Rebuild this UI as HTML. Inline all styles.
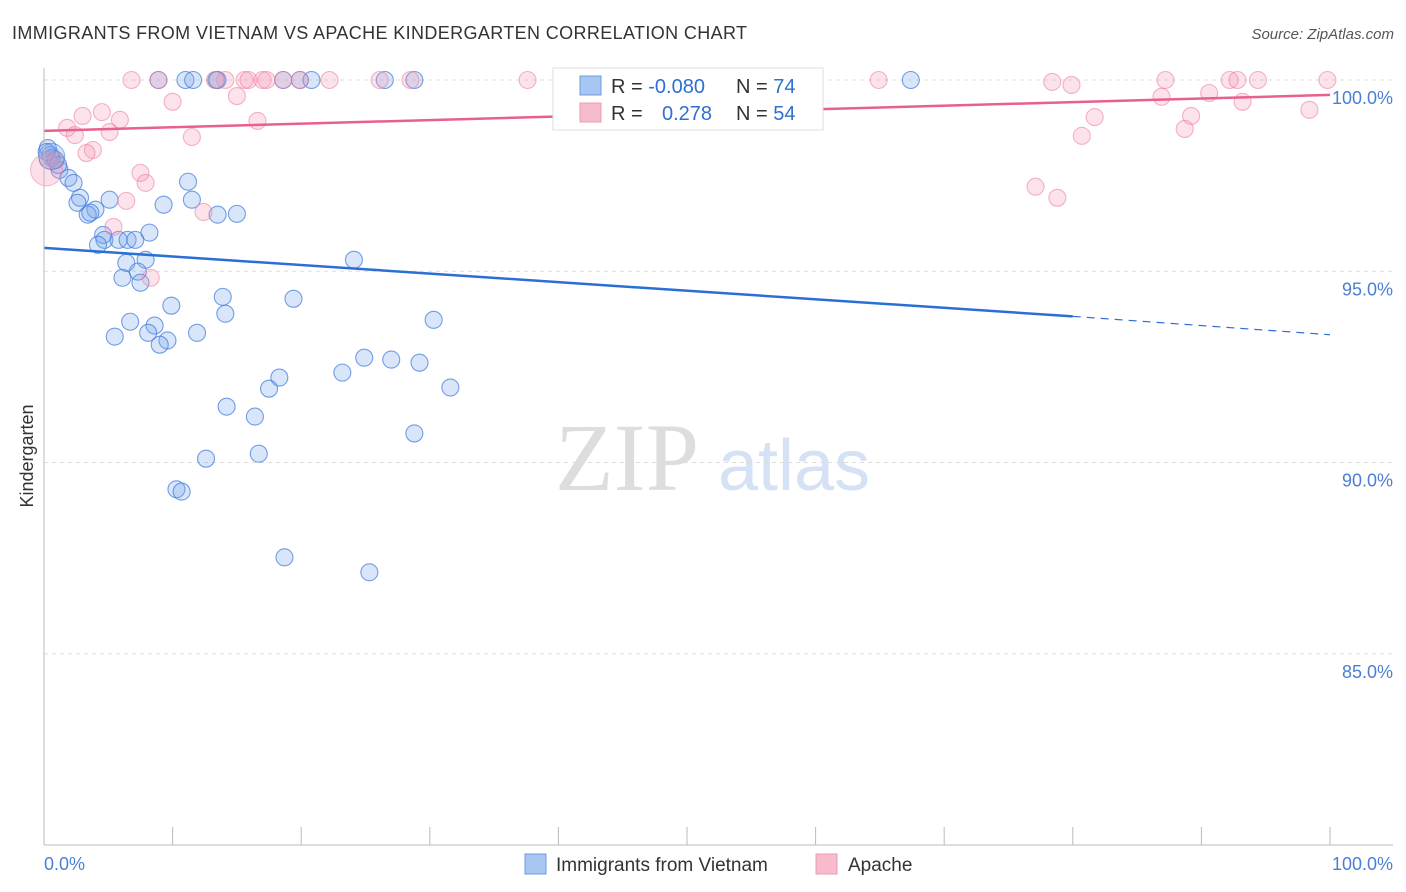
<!DOCTYPE html>
<html><head><meta charset="utf-8"><style>
body{margin:0;background:#fff;font-family:"Liberation Sans",sans-serif;}
svg{display:block}
</style></head><body>
<svg id="c" width="1406" height="892">
<text x="12" y="39" font-size="18" fill="#333" textLength="735">IMMIGRANTS FROM VIETNAM VS APACHE KINDERGARTEN CORRELATION CHART</text>
<text x="1394" y="39" font-size="15" fill="#555" font-style="italic" text-anchor="end">Source: ZipAtlas.com</text>
<text x="555" y="490" font-size="96" fill="#ddd" font-family="Liberation Serif,serif">ZIP</text>
<text x="718" y="490" font-size="72" fill="#d5e2f5">atlas</text>
<g id="grid"></g><g id="pts"></g><g id="lines"></g>
<line x1="44" y1="68" x2="44" y2="845" stroke="#bbb"/>
<line x1="44" y1="845" x2="1393" y2="845" stroke="#bbb"/>
<text x="44" y="870" font-size="18" fill="#4a7fd4">0.0%</text>
<text x="1393" y="870" font-size="18" fill="#4a7fd4" text-anchor="end">100.0%</text>
<text transform="translate(33,456) rotate(-90)" font-size="18" fill="#333" text-anchor="middle">Kindergarten</text>
<g>
<rect x="553" y="68" width="270" height="62" fill="#fff" stroke="#ddd"/>
<rect x="580" y="76" width="21" height="19" fill="#a8c6f2" stroke="#6a9be0"/>
<rect x="580" y="103" width="21" height="19" fill="#f7bccb" stroke="#ee98b0"/>
<text x="611" y="93" font-size="20" fill="#333">R = <tspan fill="#2f6fd0">-0.080</tspan><tspan x="736">N = </tspan><tspan fill="#2f6fd0">74</tspan></text>
<text x="611" y="120" font-size="20" fill="#333">R = <tspan x="662" fill="#2f6fd0">0.278</tspan><tspan x="736">N = </tspan><tspan fill="#2f6fd0">54</tspan></text>
</g>
<g>
<rect x="525" y="854" width="21" height="20" fill="#a8c6f2" stroke="#6a9be0"/>
<text x="556" y="871" font-size="19" fill="#333">Immigrants from Vietnam</text>
<rect x="816" y="854" width="21" height="20" fill="#f7bccb" stroke="#ee98b0"/>
<text x="848" y="871" font-size="19" fill="#333">Apache</text>
</g>
</svg>
<script>
const blueX=[8.9,11.0,11.6,13.4,13.5,18.6,19.9,20.8,26.5,28.8,43.1,67.4,0.5,0.9,1.2,1.9,2.3,2.8,2.6,4.0,3.4,3.6,5.1,9.3,11.2,11.5,13.5,15.0,4.6,8.2,4.7,4.2,5.8,6.5,7.1,7.9,6.4,24.1,7.3,6.1,7.5,13.9,19.4,9.9,14.1,6.7,8.6,8.1,5.5,11.9,9.6,9.0,30.3,24.9,27.0,29.2,23.2,18.3,17.5,31.6,14.2,16.4,28.8,16.7,12.6,10.3,10.7,18.7,25.3,0.3,0.6,1.1,0.2];
const blueY=[100,100,100,100,100,100,100,100,100,100,100,100,98.04,97.91,97.65,97.44,97.31,96.92,96.79,96.61,96.48,96.53,96.87,96.74,97.34,96.87,96.48,96.50,95.95,96.01,95.82,95.69,95.82,95.82,95.82,95.30,95.22,95.30,94.99,94.83,94.70,94.33,94.28,94.10,93.89,93.68,93.58,93.39,93.29,93.39,93.19,93.08,93.73,92.74,92.69,92.61,92.35,92.22,91.93,91.96,91.46,91.20,90.76,90.23,90.10,89.30,89.24,87.52,87.13,98.22,97.96,97.78,98.12];
const pinkX=[6.8,8.9,13.3,14.1,15.6,15.9,17.0,17.3,18.6,19.9,22.2,26.1,28.5,37.6,64.9,87.2,92.2,92.8,94.4,99.8,78.4,79.9,15.0,10.0,4.5,3.0,1.8,5.9,5.1,2.4,11.5,16.6,3.8,3.3,0.3,0.9,7.5,7.9,6.4,12.4,5.4,8.3,86.9,90.6,93.2,98.4,81.7,89.2,80.7,88.7,77.1,78.8];
const pinkY=[100,100,100,100,100,100,100,100,100,100,100,100,100,100,100,100,100,100,100,100,99.95,99.87,99.58,99.43,99.16,99.06,98.75,98.96,98.64,98.56,98.51,98.93,98.17,98.09,97.91,97.91,97.57,97.31,96.84,96.55,96.16,94.83,99.56,99.66,99.43,99.22,99.03,99.06,98.54,98.72,97.21,96.92];
const bigX=[0.2,0.6];const bigY=[97.65,98.0];
const yTicks=[100,95,90,85];
const yTickLabels=["100.0%","95.0%","90.0%","85.0%"];
const xTicks=[0,10,20,30,40,50,60,70,80,90,100];
const blueTrend=[95.61,93.82,93.34];
const pinkTrend=[98.67,99.61];
const NS="http://www.w3.org/2000/svg";
const sx=v=>44+v*12.86, sy=v=>845-(v-80)*38.25;
function mk(t,a,p){const e=document.createElementNS(NS,t);for(const k in a)e.setAttribute(k,a[k]);p.appendChild(e);return e;}
const grid=document.getElementById('grid'),pts=document.getElementById('pts'),lines=document.getElementById('lines');
yTicks.forEach((v,i)=>{
 const l=mk('line',{x1:44,x2:1393,y1:sy(v),y2:sy(v),stroke:'#ddd','stroke-dasharray':'4,4'},grid);
 
 
 const t=mk('text',{x:1393,y:sy(v)+24,'font-size':18,fill:'#4a7fd4','text-anchor':'end'},grid);t.textContent=yTickLabels[i];
 
 
});
xTicks.forEach(v=>{
 const l=mk('line',{x1:sx(v),x2:sx(v),y1:827,y2:845,stroke:'#bbb'},grid);
 
 
});
blueX.forEach((x,i)=>{
 const c=mk('circle',{cx:sx(x),cy:sy(blueY[i]),r:8.5,fill:'rgba(120,165,235,0.28)',stroke:'rgba(60,120,220,0.7)','stroke-width':1.1},pts);
 
 
});
pinkX.forEach((x,i)=>{
 const c=mk('circle',{cx:sx(x),cy:sy(pinkY[i]),r:8.5,fill:'rgba(245,150,180,0.28)',stroke:'rgba(235,120,155,0.55)','stroke-width':1.1},pts);
 
 
});
const b1=mk('circle',{cx:sx(bigX[0]),cy:sy(bigY[0]),r:16,fill:'rgba(245,150,180,0.3)',stroke:'rgba(235,120,155,0.5)'},pts);


const b2=mk('circle',{cx:sx(bigX[1]),cy:sy(bigY[1]),r:13,fill:'rgba(120,165,235,0.3)',stroke:'rgba(60,120,220,0.6)'},pts);


const t1=mk('line',{x1:sx(0),y1:sy(blueTrend[0]),x2:sx(80),y2:sy(blueTrend[1]),stroke:'#2b6fd6','stroke-width':2.5},lines);


const t2=mk('line',{x1:sx(80),y1:sy(blueTrend[1]),x2:sx(100),y2:sy(blueTrend[2]),stroke:'#2b6fd6','stroke-width':1.2,'stroke-dasharray':'8,6'},lines);


const t3=mk('line',{x1:sx(0),y1:sy(pinkTrend[0]),x2:sx(100),y2:sy(pinkTrend[1]),stroke:'#e8608c','stroke-width':2.5},lines);


</script>
</body></html>
